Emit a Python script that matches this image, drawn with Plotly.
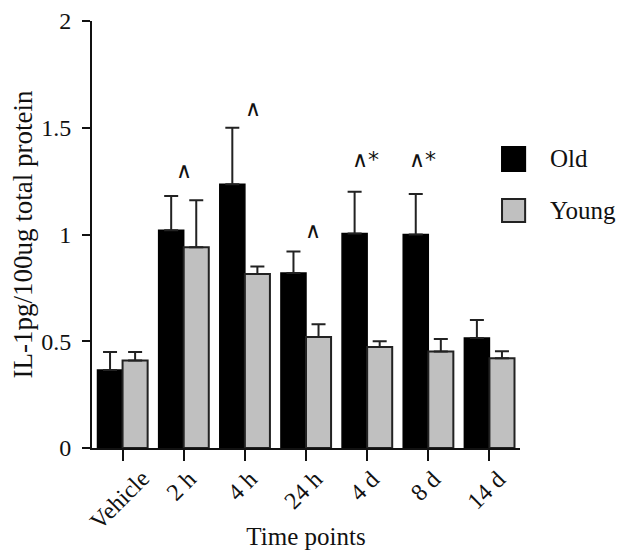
import plotly.graph_objects as go

categories = ["Vehicle", "2 h", "4 h", "24 h", "4 d", "8 d", "14 d"]
old_values = [0.365, 1.02, 1.235, 0.82, 1.005, 1.0, 0.515]
old_errors = [0.085, 0.16, 0.265, 0.10, 0.195, 0.19, 0.085]
young_values = [0.41, 0.94, 0.815, 0.52, 0.473, 0.452, 0.42]
young_errors = [0.04, 0.22, 0.035, 0.06, 0.027, 0.058, 0.033]
sig_labels = ["", "∧", "∧", "∧", "∧*", "∧*", ""]
sig_y = [0, 1.30, 1.59, 1.02, 1.35, 1.35, 0]
sig_xshift = [0, 0, 8, 7, -2, -6, 0]
y_ticks = [0, 0.5, 1, 1.5, 2]
y_tick_text = ["0", "0.5", "1", "1.5", "2"]

FONT = "Liberation Serif, Times New Roman, serif"
INK = "#111111"

fig = go.Figure()
fig.add_trace(go.Bar(
    name="Old", x=categories, y=old_values,
    marker=dict(color="#000000", line=dict(color="#000000", width=1.5)),
    error_y=dict(type="data", array=old_errors, symmetric=False, arrayminus=[0]*7,
                 color="#222222", thickness=2, width=7),
    showlegend=False,
))
fig.add_trace(go.Bar(
    name="Young", x=categories, y=young_values,
    marker=dict(color="#c0c0c0", line=dict(color="#222222", width=2)),
    error_y=dict(type="data", array=young_errors, symmetric=False, arrayminus=[0]*7,
                 color="#222222", thickness=2, width=7),
    showlegend=False,
))

for c, t, yv, xs in zip(categories, sig_labels, sig_y, sig_xshift):
    if t:
        fig.add_annotation(x=c, y=yv, text=t, showarrow=False, xshift=xs,
                           font=dict(family="DejaVu Sans", size=22, color=INK))

# rotated category labels, centred under each tick
for c in categories:
    fig.add_annotation(x=c, y=-0.035, yref="paper", text=c, showarrow=False,
                       textangle=-45, xanchor="center", yanchor="top", xshift=-3,
                       font=dict(family=FONT, size=24, color=INK))

# legend drawn manually
legend_items = [("Old", "#000000", "#000000", 0.705, 0.649),
                ("Young", "#c0c0c0", "#222222", 0.583, 0.529)]
for name, fill, edge, y1, y0 in legend_items:
    fig.add_shape(type="rect", xref="paper", yref="paper", x0=0.958, x1=1.012,
                  y0=y0, y1=y1, fillcolor=fill, line=dict(color=edge, width=2))
    fig.add_annotation(xref="paper", yref="paper", x=1.065, y=(y0 + y1) / 2,
                       text=name, showarrow=False, xanchor="left", yanchor="middle",
                       font=dict(family=FONT, size=25, color=INK))

# page body has an 8px default margin, so the figure is 8px smaller and margins shifted
fig.update_layout(
    width=616, height=550,
    margin=dict(l=84, r=104, t=13, b=110),
    paper_bgcolor="white", plot_bgcolor="white",
    barmode="group", bargap=0.18, bargroupgap=0,
    font=dict(family=FONT, size=22, color=INK),
    xaxis=dict(
        range=[-0.5, 6.5], showline=True, linecolor=INK, linewidth=2,
        ticks="outside", ticklen=11, tickwidth=2, tickcolor=INK,
        showticklabels=False, automargin=False,
        title=dict(text="Time points", font=dict(size=25), standoff=67),
        showgrid=False, zeroline=False,
    ),
    yaxis=dict(
        range=[0, 2], showline=True, linecolor=INK, linewidth=2,
        ticks="outside", ticklen=8, tickwidth=2, tickcolor=INK,
        tickvals=y_ticks, ticktext=y_tick_text, tickfont=dict(size=24),
        ticklabelstandoff=6, automargin=False,
        title=dict(text="IL-1pg/100ug total protein", font=dict(size=27), standoff=12),
        showgrid=False, zeroline=False,
    ),
)

fig.write_html("out.html")
